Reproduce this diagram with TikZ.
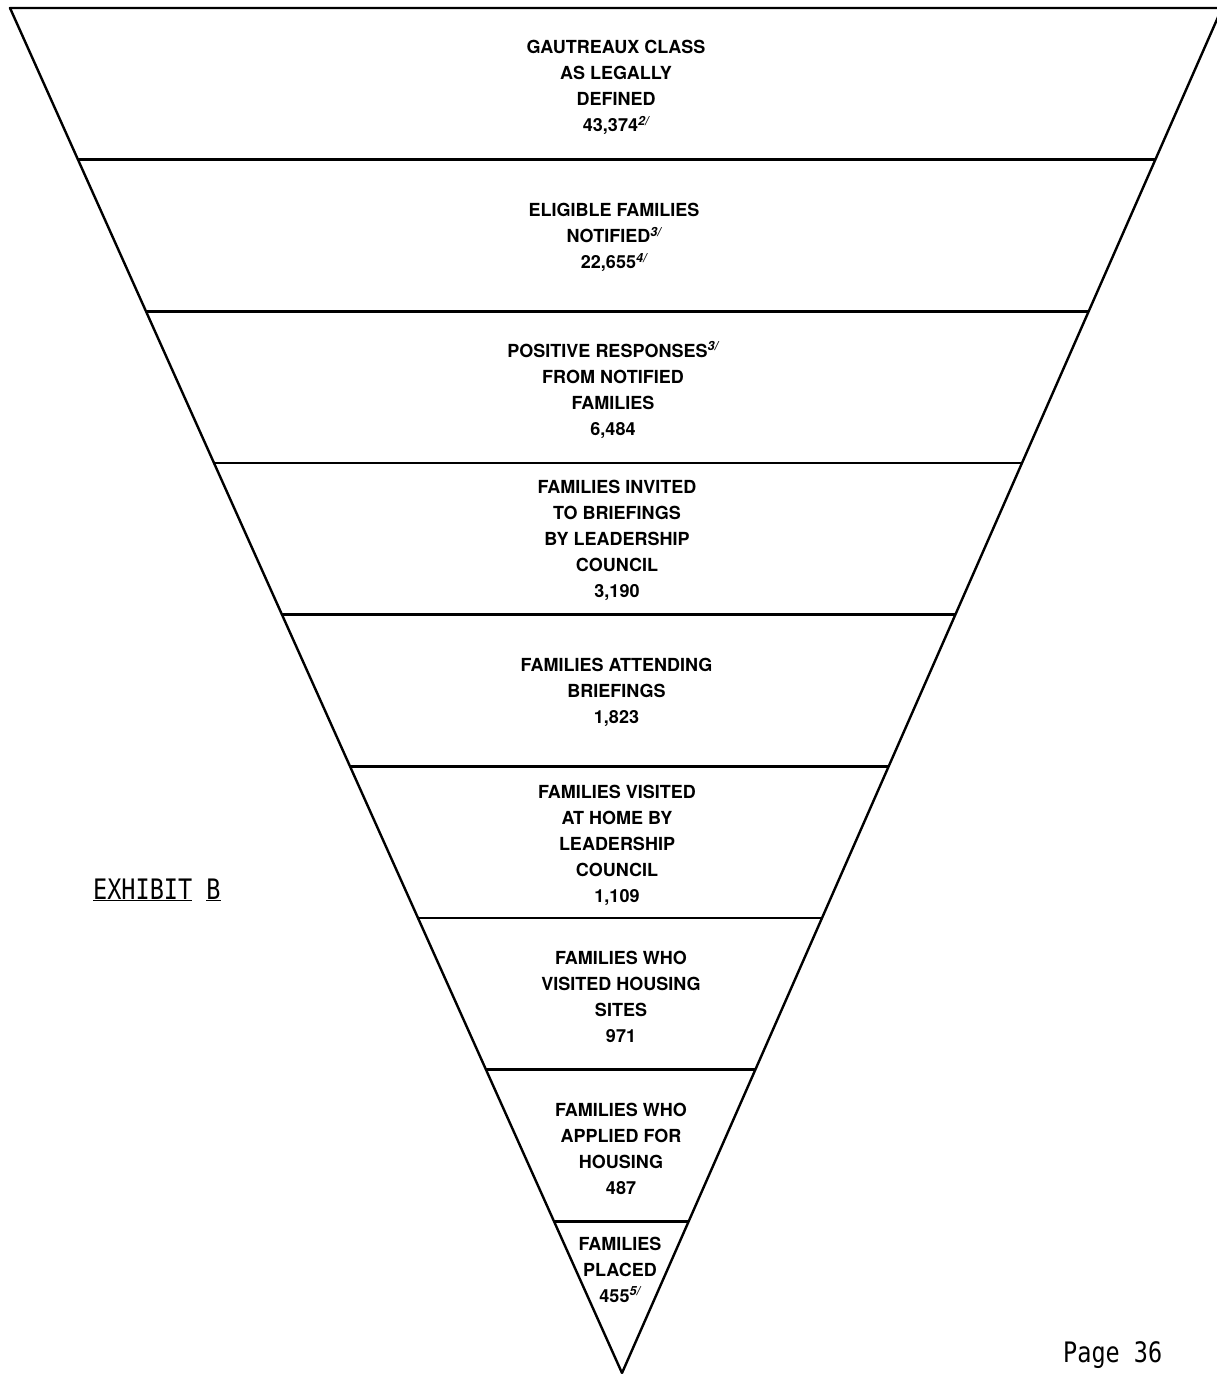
\documentclass[tikz,border=0pt]{standalone}
\usepackage{fontspec}
\usepackage{graphicx}
\newfontfamily\hvfont{TeX Gyre Heros}
\newfontfamily\monofont{DejaVu Sans Mono}
\usetikzlibrary{calc}
\newcommand\fnref[1]{\textsuperscript{\itshape #1}}
\begin{document}
\begin{tikzpicture}[x=1pt,y=-1pt,
  edge/.style={line width=2.4pt, line join=round},
  divider/.style={line width=2.4pt},
  lbl/.style={anchor=base, align=center, inner sep=0pt,
    font=\hvfont\bfseries\fontsize{18}{26}\selectfont},
  typed/.style={inner sep=0pt, font=\monofont\fontsize{23.5}{28}\selectfont}]
\useasboundingbox (0,0) rectangle (1217,1374);
% triangle
\coordinate (TL) at (10,8);
\coordinate (TR) at (1222,8);
\coordinate (A) at (622,1373);
\draw[edge] (TL) -- (TR) -- (A) -- cycle;
% dividers at ninths
\foreach \k in {1,...,8}{
  \coordinate (L\k) at ($(TL)!\k/9!(A)$);
  \coordinate (R\k) at ($(TR)!\k/9!(A)$);
  \draw[divider] (L\k) -- (R\k);
}
% labels (anchor base = baseline of the last line)
\node[lbl] (s1) at (616,131.5) {GAUTREAUX CLASS\\AS LEGALLY\\DEFINED\\43,374\fnref{2/}};
\node[lbl] (s2) at (614,268.5) {ELIGIBLE FAMILIES\\NOTIFIED\fnref{3/}\\22,655\fnref{4/}};
\node[lbl] (s3) at (613,435) {POSITIVE RESPONSES\fnref{3/}\\FROM NOTIFIED\\FAMILIES\\6,484};
\node[lbl] (s4) at (617,597.5) {FAMILIES INVITED\\TO BRIEFINGS\\BY LEADERSHIP\\COUNCIL\\3,190};
\node[lbl] (s5) at (616.5,723.5) {FAMILIES ATTENDING\\BRIEFINGS\\1,823};
\node[lbl] (s6) at (617,902.5) {FAMILIES VISITED\\AT HOME BY\\LEADERSHIP\\COUNCIL\\1,109};
\node[lbl] (s7) at (621,1042.5) {FAMILIES WHO\\VISITED HOUSING\\SITES\\971};
\node[lbl] (s8) at (621,1194.5) {FAMILIES WHO\\APPLIED FOR\\HOUSING\\487};
\node[lbl] (s9) at (620,1302) {FAMILIES\\PLACED\\455\fnref{5/}};
% side texts
\node[typed, anchor=base west] (exhibit) at (93,899) {\scalebox{1}[1.2]{\underline{EXHIBIT}}\ \scalebox{1}[1.2]{\underline{B}}};
\node[typed, anchor=base west] (page) at (1063,1362) {\scalebox{1}[1.2]{Page 36}};
\end{tikzpicture}
\end{document}
